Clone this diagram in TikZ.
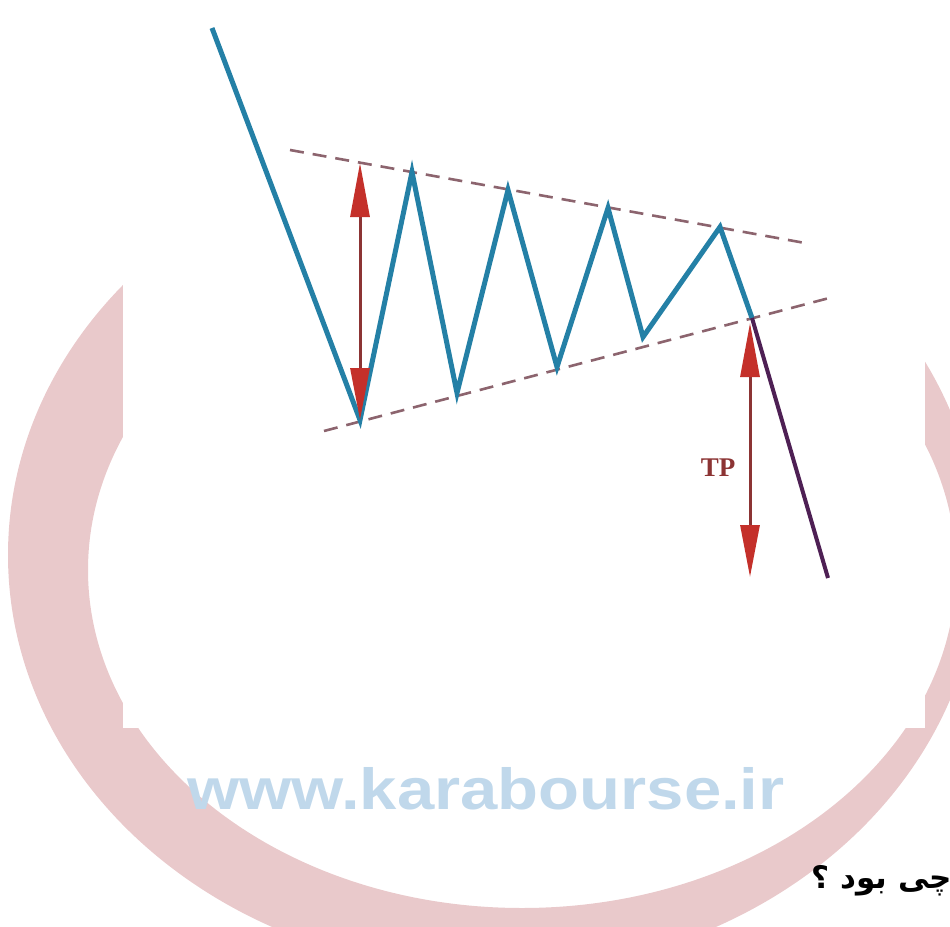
\documentclass[tikz,border=0pt]{standalone}
\usepackage{fontspec}
\usetikzlibrary{arrows.meta}
\setmainfont{Liberation Serif}
\newfontfamily\kbSans{Liberation Sans}
\newfontfamily\kbArabic[Script=Arabic]{DejaVu Sans}
\TeXXeTstate=1
\definecolor{kbPink}{RGB}{233,201,203}
\definecolor{kbWater}{RGB}{192,216,235}
\definecolor{kbBlue}{RGB}{36,128,166}
\definecolor{kbBand}{RGB}{140,100,110}
\definecolor{kbRed}{RGB}{196,48,42}
\definecolor{kbShaft}{RGB}{140,52,52}
\definecolor{kbPurple}{RGB}{78,32,84}

\begin{document}
\begin{tikzpicture}[x=1pt,y=-1pt,
  price/.style={kbBlue, line width=5pt, line join=miter},
  band/.style={kbBand, line width=2.6pt, dash pattern=on 14pt off 9pt},
  breakdown/.style={kbPurple, line width=4pt},
  target/.style={kbShaft, line width=3pt,
    {Triangle[length=54pt,width=19pt,color=kbRed,fill=kbRed]}-{Triangle[length=52pt,width=19pt,color=kbRed,fill=kbRed]}}]
\useasboundingbox (0,0) rectangle (950,926);
\fill[kbPink, even odd rule] (494,555) ellipse [x radius=486pt, y radius=418pt]
  (522,570) ellipse [x radius=434pt, y radius=338pt];
\fill[white] (123,0) rectangle (925,728);
\coordinate (start) at (212,28);
\coordinate (low1) at (360,420);
\coordinate (high1) at (412,172);
\coordinate (low2) at (457,393);
\coordinate (high2) at (508,190);
\coordinate (low3) at (557,367);
\coordinate (high3) at (608,208);
\coordinate (low4) at (643,337);
\coordinate (high4) at (720,227);
\coordinate (brk) at (752,318);
\coordinate (exit) at (828,578);
\coordinate (upL) at (290,150);
\coordinate (upR) at (805,243);
\coordinate (loL) at (324,431);
\coordinate (loR) at (833,297);
\coordinate (hTop) at (360,163);
\coordinate (tpTop) at (750,323);
\coordinate (tpBot) at (750,577);
\draw[band] (upL) -- (upR);
\draw[band] (loL) -- (loR);
\draw[price] (start) -- (low1) -- (high1) -- (low2) -- (high2) -- (low3) -- (high3) -- (low4) -- (high4) -- (brk);
\draw[breakdown] (brk) -- (exit);
\draw[target] (hTop) -- (low1);
\draw[target] (tpTop) -- (tpBot);
\node[anchor=center, inner sep=0pt, text=kbShaft, font=\bfseries\fontsize{27}{27}\selectfont] (tplabel) at (718,468) {TP};
\node[anchor=base west, inner sep=0pt, xscale=1.156, text=kbWater, font=\kbSans\bfseries\fontsize{58}{58}\selectfont] (site) at (187,809) {www.karabourse.ir};
\node[anchor=base east, inner sep=0pt, font=\kbArabic\bfseries\fontsize{31}{31}\selectfont] (question) at (952,888) {\beginR چی بود ؟\endR};
\end{tikzpicture}
\end{document}
